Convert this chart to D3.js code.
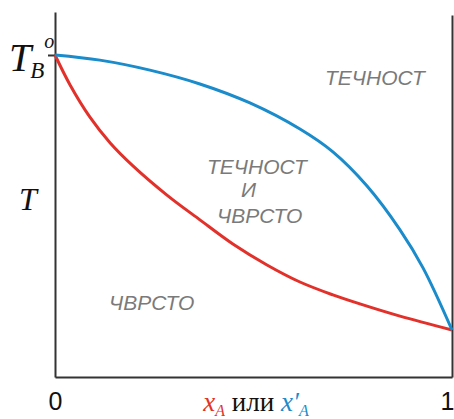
<!DOCTYPE html>
<html>
<head>
<meta charset="utf-8">
<script src="https://cdn.jsdelivr.net/npm/d3@7"></script>
<style>
  body { margin: 0; background: #fff; }
  svg { display: block; }
  .serif { font-family: "Liberation Serif", "DejaVu Serif", serif; font-style: italic; }
  .region { font-family: "Liberation Sans", Arial, sans-serif; font-style: italic; fill: #7a7a7a; font-size: 21px; }
</style>
</head>
<body>
<div id="chart"></div>
<script>
// composition of A (mole fraction), liquidus (blue) and solidus (red), T scaled so T_B° = 1
var liquidusX = [0, 0.113, 0.239, 0.365, 0.491, 0.617, 0.700, 0.786, 0.869, 0.927, 1];
var liquidusT = [1, 0.984, 0.953, 0.910, 0.851, 0.770, 0.699, 0.593, 0.457, 0.339, 0.146];
var solidusX = [0, 0.038, 0.088, 0.139, 0.197, 0.282, 0.365, 0.448, 0.534, 0.617, 0.700, 0.768, 0.869, 1];
var solidusT = [1, 0.907, 0.807, 0.727, 0.655, 0.565, 0.488, 0.413, 0.348, 0.295, 0.255, 0.227, 0.189, 0.146];
var xTicks = [0, 1];
var regionNames = ["ТЕЧНОСТ", "И", "ЧВРСТО"];

var width = 454,
    height = 419;

var svg = d3.select('#chart')
  .append('svg')
  .attr('width', width)
  .attr('height', height);

var x = d3.scaleLinear().domain([0, 1]).range([55, 452]);
var y = d3.scaleLinear().domain([0, 1.1335]).range([377, 12]);

function styleAxis(g) {
  g.select('.domain').attr('stroke', '#333').attr('stroke-width', 2);
  g.selectAll('.tick line').attr('stroke', '#333').attr('stroke-width', 2);
}

// left axis with the T_B° tick
svg.append('g')
  .attr('transform', 'translate(' + x(0) + ',0)')
  .call(d3.axisLeft(y).tickValues([1]).tickSize(7).tickSizeOuter(0).tickFormat(''))
  .call(styleAxis);

// right border
svg.append('g')
  .attr('transform', 'translate(' + x(1) + ',0)')
  .call(d3.axisRight(d3.scaleLinear().domain([0, 1]).range([377, 15])).tickValues([]).tickSizeOuter(0))
  .call(styleAxis);

// bottom axis
svg.append('g')
  .attr('transform', 'translate(0,' + y(0) + ')')
  .call(d3.axisBottom(x).tickValues(xTicks).tickSize(0).tickSizeOuter(0).tickPadding(15).tickFormat(d3.format('d')))
  .call(styleAxis)
  .call(function(g) {
    g.selectAll('.tick text')
      .attr('fill', '#111')
      .attr('font-family', '"Liberation Sans", Arial, sans-serif')
      .attr('font-size', 25);
    g.selectAll('.tick text').filter(function(d) { return d === 1; })
      .attr('text-anchor', 'end')
      .attr('dx', 2);
  });

var line = d3.line()
  .x(function(d) { return x(d[0]); })
  .y(function(d) { return y(d[1]); })
  .curve(d3.curveCatmullRom.alpha(0.5));

svg.append('path')
  .datum(d3.zip(solidusX, solidusT))
  .attr('fill', 'none')
  .attr('stroke', '#e2312b')
  .attr('stroke-width', 3)
  .attr('d', line);

svg.append('path')
  .datum(d3.zip(liquidusX, liquidusT))
  .attr('fill', 'none')
  .attr('stroke', '#1a8bcb')
  .attr('stroke-width', 3)
  .attr('d', line);

// T_B° label
var tb = svg.append('text').attr('class', 'serif').attr('x', 9).attr('y', 71).attr('fill', '#111');
tb.append('tspan').attr('font-size', 40).text('T');
tb.append('tspan').attr('font-size', 23).attr('dy', 7).attr('dx', -1).text('B');
tb.append('tspan').attr('font-size', 20).attr('dy', -30).attr('dx', 0).text('o');

svg.append('text')
  .attr('class', 'serif')
  .attr('x', 19).attr('y', 210)
  .attr('font-size', 32)
  .attr('fill', '#111')
  .text('T');

// x axis label
var xl = svg.append('text')
  .attr('x', 256).attr('y', 411)
  .attr('text-anchor', 'middle')
  .attr('font-family', '"Liberation Serif", "DejaVu Serif", serif')
  .attr('font-size', 27);
xl.append('tspan').attr('font-style', 'italic').attr('fill', '#e2312b').text('x');
xl.append('tspan').attr('font-style', 'italic').attr('fill', '#e2312b').attr('font-size', 16).attr('dy', 5).text('A');
xl.append('tspan').attr('fill', '#111').attr('dy', -5).text(' или ');
xl.append('tspan').attr('font-style', 'italic').attr('fill', '#1a8bcb').text('x′');
xl.append('tspan').attr('font-style', 'italic').attr('fill', '#1a8bcb').attr('font-size', 16).attr('dy', 5).text('A');

// phase regions
svg.append('text').attr('class', 'region').attr('x', 325).attr('y', 85).text(regionNames[0]);
svg.append('text').attr('class', 'region').attr('x', 207).attr('y', 174).text(regionNames[0]);
svg.append('text').attr('class', 'region').attr('x', 241).attr('y', 197).text(regionNames[1]);
svg.append('text').attr('class', 'region').attr('x', 217).attr('y', 223).text(regionNames[2]);
svg.append('text').attr('class', 'region').attr('x', 109).attr('y', 310).text(regionNames[2]);
</script>
</body>
</html>
